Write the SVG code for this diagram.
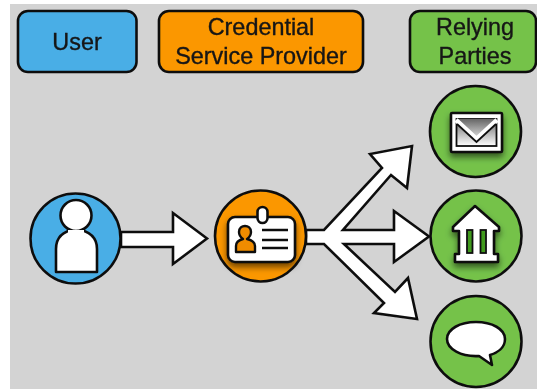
<svg xmlns="http://www.w3.org/2000/svg" width="537" height="389" viewBox="0 0 537 389">
<style>
.box{stroke:#111;stroke-width:2.6}
.circ{stroke:#111;stroke-width:2.6}
.blue{fill:#4aaee6}.orange{fill:#fb9700}.green{fill:#74c24a}
.lbl{font-family:"Liberation Sans",Arial,sans-serif;font-size:23.400px;fill:#151515;stroke:#151515;stroke-width:0.350;text-anchor:middle}
.w{fill:#fff;stroke:#111;stroke-width:2.600;stroke-linejoin:miter}
.ic{fill:#fff;stroke:#111;stroke-width:2.600;stroke-linejoin:round}
</style>
<defs>
<filter id="soft" x="-5%" y="-5%" width="110%" height="110%"><feGaussianBlur stdDeviation="0.5"/></filter>
<filter id="sh" x="-30%" y="-30%" width="160%" height="170%"><feDropShadow dx="0" dy="4" stdDeviation="3" flood-color="#000" flood-opacity="0.55"/></filter>
<linearGradient id="env" x1="0" y1="0" x2="0" y2="1"><stop offset="0" stop-color="#666"/><stop offset="1" stop-color="#ddd"/></linearGradient>
<linearGradient id="env2" x1="0" y1="1" x2="0" y2="0"><stop offset="0" stop-color="#fff"/><stop offset="1" stop-color="#666"/></linearGradient>
</defs>
<rect width="537" height="389" fill="#fff"/>
<rect x="10" y="4" width="527" height="385" fill="#d3d3d3"/>
<g filter="url(#soft)">
<g id="connectors">
<polygon class="w" points="121,232 173,232 173,213 207,238.500 173,264 173,247 121,247"/>
<polygon class="w" points="306,230 324,230 382,168 370,154 412,146 407,188 391,175 343,230 394,230 394,211 429,236.500 394,262 394,244 344,244 395,292 408,278 417,319 374,313 384,303 324,244 306,244"/>
</g>
<g id="legend-user">
<rect class="box blue" x="18" y="11" width="118.500" height="61" rx="10"/>
<text class="lbl" x="77" y="50">User</text>
</g>
<g id="legend-csp">
<rect class="box orange" x="159" y="11" width="204" height="61" rx="10"/>
<text class="lbl" x="261" y="35">Credential</text>
<text class="lbl" x="261" y="64">Service Provider</text>
</g>
<g id="legend-rp">
<rect class="box green" x="410" y="11" width="126" height="61" rx="10"/>
<text class="lbl" x="475" y="35">Relying</text>
<text class="lbl" x="475" y="64">Parties</text>
</g>
<g id="node-user">
<circle class="circ blue" cx="75.500" cy="238.500" r="45"/>
<path class="ic" d="M56,272 V249 C56,238 62,231 76,229 C90,231 97,238 97,249 V272 Z"/>
<circle cx="76" cy="215.500" r="15.500" class="ic"/>
<path d="M68,230 H84 V236 H68 Z" fill="#fff"/>
</g>
<g id="node-csp">
<circle class="circ orange" cx="260.500" cy="236" r="45.500"/>
<rect class="ic" x="228" y="217" width="67" height="45" rx="7" filter="url(#sh)"/>
<rect class="ic" x="257.500" y="207" width="10" height="16" rx="5"/>
<path d="M236,252 V246 C236,242 239,240 243,239 C240,237 239,235 239,232 C239,228 242,226 245,226 C248,226 251,228 251,232 C251,235 250,237 247,239 C251,240 255,242 255,246 V252 Z" fill="#f08c00" stroke="#111" stroke-width="2.400" stroke-linejoin="round"/>
<path d="M262,230 H288 M262,240 H288 M262,248 H288" stroke="#111" stroke-width="2.400" fill="none"/>
</g>
<g id="node-mail">
<circle class="circ green" cx="475.500" cy="131.500" r="45.500"/>
<rect class="ic" x="451" y="113" width="51" height="39" rx="1" filter="url(#sh)"/>
<rect x="456.500" y="119" width="40" height="27" fill="url(#env2)" stroke="#111" stroke-width="1.800"/>
<polygon points="456.500,119 496.500,119 476.500,138" fill="url(#env)"/>
<path d="M456,120 L476.500,139 L497,120" fill="none" stroke="#fff" stroke-width="4.500"/>
<path d="M457,124 L476.500,142 L496,124" fill="none" stroke="#111" stroke-width="1.800"/>
</g>
<g id="node-bank">
<circle class="circ green" cx="476" cy="236" r="45.500"/>
<path class="ic" filter="url(#sh)" d="M475,206 L499,227 V231 H494 V254 H498 V262 H455 V254 H459 V231 H453 V227 Z"/>
<rect x="467" y="230" width="5.500" height="23" fill="#3f9a1e" stroke="#111" stroke-width="1.800"/>
<rect x="480.500" y="230" width="5.500" height="23" fill="#3f9a1e" stroke="#111" stroke-width="1.800"/>
</g>
<g id="node-chat">
<circle class="circ green" cx="476" cy="341.500" r="45.500"/>
<path class="ic" d="M476,322 C492,322 505,329 505,339 C505,348 497,353 490,355 L492,365 L479,356 C461,357 447,349 447,339 C447,329 460,322 476,322 Z"/>
</g>
</g>
</svg>
